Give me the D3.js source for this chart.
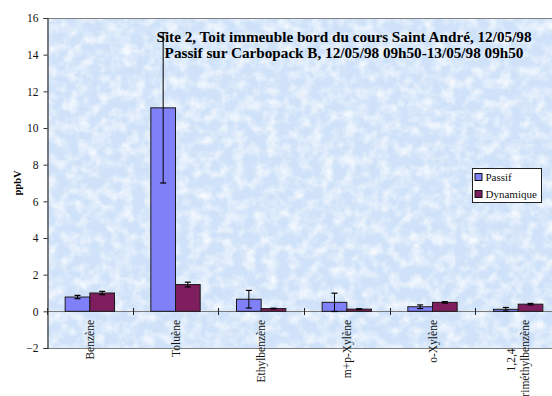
<!DOCTYPE html>
<html>
<head>
<meta charset="utf-8">
<script src="https://cdn.jsdelivr.net/npm/d3@7"></script>
<style>
  html, body { margin: 0; padding: 0; background: #ffffff; }
  svg { display: block; font-family: "Liberation Serif", "Times New Roman", serif; }
</style>
</head>
<body>
<svg id="chart" width="552" height="396"></svg>
<script>
// Compounds measured at site 2 (ppbV), passive vs. active sampling
const categories = ["Benzène", "Toluène", "Ethylbenzène", "m+p-Xylène", "o-Xylène", "1,2,4\ntriméthylbenzène"];
const seriesNames = ["Passif", "Dynamique"];
const passifValues = [0.78, 11.1, 0.66, 0.49, 0.25, 0.11];
const passifErrors = [0.09, 4.1, 0.48, 0.5, 0.1, 0.1];
const dynamiqueValues = [1.0, 1.46, 0.15, 0.12, 0.49, 0.39];
const dynamiqueErrors = [0.09, 0.13, 0.02, 0.02, 0.04, 0.04];
const yTicks = [-2, 0, 2, 4, 6, 8, 10, 12, 14, 16];
const titleLines = [
  "Site 2, Toit immeuble bord du cours Saint André, 12/05/98",
  "Passif sur Carbopack B, 12/05/98 09h50-13/05/98 09h50"
];
const yLabel = "ppbV";

const colors = { "Passif": "#8080f8", "Dynamique": "#7e1e5e" };
const serif = "Liberation Serif, Times New Roman, serif";

const svg = d3.select("#chart");
const plot = { left: 47, top: 18, right: 561, bottom: 348 };

// Tissue-paper texture for the plot area
const defs = svg.append("defs");
const f = defs.append("filter").attr("id", "tissue")
  .attr("x", 0).attr("y", 0).attr("width", "100%").attr("height", "100%");
f.append("feTurbulence").attr("type", "fractalNoise")
  .attr("baseFrequency", "0.09").attr("numOctaves", 4).attr("seed", 11).attr("result", "noise");
f.append("feColorMatrix").attr("in", "noise").attr("type", "matrix")
  .attr("values", "0 0 0 0 1  0 0 0 0 1  0 0 0 0 1  1.6 0 0 0 -0.6");

svg.append("rect")
  .attr("x", plot.left).attr("y", plot.top)
  .attr("width", plot.right - plot.left).attr("height", plot.bottom - plot.top)
  .attr("fill", "#cfe2f9");
svg.append("rect")
  .attr("x", plot.left).attr("y", plot.top)
  .attr("width", plot.right - plot.left).attr("height", plot.bottom - plot.top)
  .attr("fill", "#fff").attr("filter", "url(#tissue)");

// Scales
const y = d3.scaleLinear().domain([-2, 16]).range([plot.bottom, plot.top]);
const x = d3.scaleBand().domain(categories).range([plot.left, plot.right]).padding(0);
const barW = x.bandwidth() * 0.288;
const xs = d3.scaleBand().domain(seriesNames).range([0, barW * 2]).padding(0);
const groupOffset = (x.bandwidth() - barW * 2) / 2;

// Plot-area frame (top and bottom edges)
svg.append("line").attr("x1", plot.left).attr("x2", plot.right)
  .attr("y1", plot.top + 0.5).attr("y2", plot.top + 0.5).attr("stroke", "#808080");
svg.append("line").attr("x1", plot.left).attr("x2", plot.right)
  .attr("y1", plot.bottom + 0.5).attr("y2", plot.bottom + 0.5).attr("stroke", "#808080");

// Zero line
const y0 = Math.round(y(0)) + 0.5;
svg.append("line").attr("x1", plot.left).attr("x2", plot.right)
  .attr("y1", y0).attr("y2", y0).attr("stroke", "#7a7a7a").attr("stroke-width", 1.2);

// Category separators crossing the zero line
const seps = categories.map(c => x(c)).concat([plot.right]);
svg.append("g").selectAll("line").data(seps).join("line")
  .attr("x1", d => Math.round(d) + 0.5).attr("x2", d => Math.round(d) + 0.5)
  .attr("y1", y0 - 3.5).attr("y2", y0 + 3.5)
  .attr("stroke", "#222");

// Bars
const rows = categories.map((c, i) => ({
  cat: c,
  items: [
    { s: "Passif", v: passifValues[i], e: passifErrors[i] },
    { s: "Dynamique", v: dynamiqueValues[i], e: dynamiqueErrors[i] }
  ]
}));

const groups = svg.append("g").selectAll("g").data(rows).join("g")
  .attr("transform", d => `translate(${x(d.cat) + groupOffset},0)`);

groups.selectAll("rect").data(d => d.items).join("rect")
  .attr("x", d => xs(d.s))
  .attr("y", d => y(Math.max(0, d.v)))
  .attr("width", xs.bandwidth())
  .attr("height", d => Math.abs(y(d.v) - y(0)))
  .attr("fill", d => colors[d.s])
  .attr("stroke", "#1a1a1a").attr("stroke-width", 1);

// Error bars
const eb = groups.selectAll("g.err").data(d => d.items).join("g").attr("class", "err")
  .attr("transform", d => `translate(${xs(d.s) + xs.bandwidth() / 2},0)`);
eb.append("line").attr("x1", 0).attr("x2", 0)
  .attr("y1", d => y(d.v + d.e)).attr("y2", d => y(d.v - d.e))
  .attr("stroke", "#000").attr("stroke-width", 1);
eb.append("line").attr("x1", -3).attr("x2", 3)
  .attr("y1", d => y(d.v + d.e)).attr("y2", d => y(d.v + d.e))
  .attr("stroke", "#000").attr("stroke-width", 1.2);
eb.append("line").attr("x1", -3).attr("x2", 3)
  .attr("y1", d => y(d.v - d.e)).attr("y2", d => y(d.v - d.e))
  .attr("stroke", "#000").attr("stroke-width", 1.2);

// Y axis
const yAxis = svg.append("g").attr("transform", `translate(${plot.left + 0.5},0)`)
  .call(d3.axisLeft(y).tickValues(yTicks).tickSize(4).tickPadding(5).tickFormat(d3.format("d")));
yAxis.attr("font-family", serif);
yAxis.select(".domain").attr("stroke", "#333").attr("stroke-width", 1.2);
yAxis.selectAll(".tick line").attr("stroke", "#333");
yAxis.selectAll("text").attr("font-family", serif).attr("font-size", 11.5).attr("fill", "#111");

// Y label
svg.append("text")
  .attr("transform", `translate(17,${(plot.top + plot.bottom) / 2}) rotate(-90)`)
  .attr("text-anchor", "middle").attr("dy", "0.35em")
  .attr("font-family", serif).attr("font-weight", "bold").attr("font-size", 10.5)
  .text(yLabel);

// Category labels, rotated; multi-line labels centred on their longest line
const labels = svg.append("g").selectAll("text").data(categories).join("text")
  .attr("font-family", serif).attr("font-size", 11.5).attr("fill", "#111").attr("text-anchor", "middle");
labels.each(function (c) {
  const t = d3.select(this);
  const lines = c.split("\n");
  const lh = 14;
  lines.forEach((ln, i) => {
    t.append("tspan").attr("x", 0)
      .attr("y", (i - (lines.length - 1) / 2) * lh)
      .attr("dy", "0.35em").text(ln);
  });
  let maxLen = 0;
  t.selectAll("tspan").each(function () { maxLen = Math.max(maxLen, this.getComputedTextLength()); });
  const cx = x(c) + x.bandwidth() / 2;
  t.attr("transform", `translate(${cx},${y0 + 8.5 + maxLen / 2}) rotate(-90)`);
});

// Legend
const legend = svg.append("g").attr("transform", "translate(472.5,168.5)");
legend.append("rect").attr("width", 69).attr("height", 34)
  .attr("fill", "#fff").attr("stroke", "#222");
seriesNames.forEach((s, i) => {
  legend.append("rect").attr("x", 2.5).attr("y", 5 + i * 17).attr("width", 7).attr("height", 7)
    .attr("fill", colors[s]).attr("stroke", "#111");
  legend.append("text").attr("x", 13).attr("y", 9 + i * 17).attr("dy", "0.35em")
    .attr("font-family", serif).attr("font-size", 11).attr("fill", "#111").text(s);
});

// Title
const title = svg.append("text").attr("text-anchor", "middle")
  .attr("font-family", serif).attr("font-weight", "bold").attr("font-size", 15.2).attr("fill", "#000");
titleLines.forEach((ln, i) => {
  title.append("tspan").attr("x", 344).attr("y", 42.3 + i * 15.2).text(ln);
});
</script>
</body>
</html>
